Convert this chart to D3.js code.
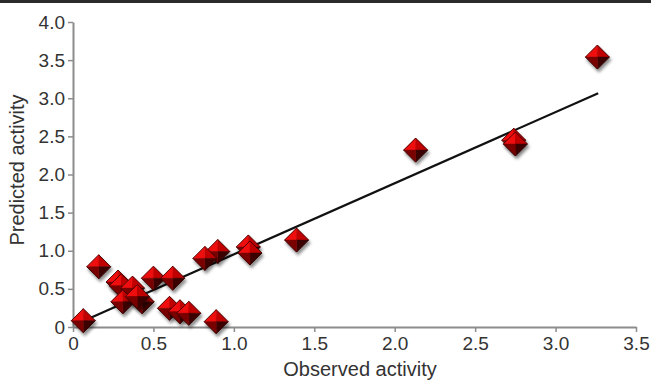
<!DOCTYPE html>
<html>
<head>
<meta charset="utf-8">
<script src="https://cdn.jsdelivr.net/npm/d3@7"></script>
<style>
  body { margin: 0; background: #fff; }
  svg text { font-family: "Liberation Sans", Arial, sans-serif; fill: #333; }
</style>
</head>
<body>
<div class="chart"></div>
<script>
// observed vs predicted activity
let observed  = [3.26, 2.74, 2.75, 2.13, 1.39, 1.09, 1.10, 0.90, 0.82, 0.89, 0.16, 0.064, 0.50, 0.62, 0.28, 0.30, 0.37, 0.31, 0.43, 0.40, 0.60, 0.665, 0.72];
let predicted = [3.54, 2.45, 2.40, 2.32, 1.14, 1.05, 0.97, 0.99, 0.90, 0.07, 0.79, 0.083, 0.64, 0.64, 0.59, 0.54, 0.51, 0.33, 0.33, 0.40, 0.245, 0.20, 0.18];
// fitted line ends
let fitX = [0.075, 3.265];
let fitY = [0.09, 3.065];
let xTicks = [0, 0.5, 1.0, 1.5, 2.0, 2.5, 3.0, 3.5];
let yTicks = [0, 0.5, 1.0, 1.5, 2.0, 2.5, 3.0, 3.5, 4.0];

let width = 651, height = 381;
let svg = d3.select('div.chart').append('svg')
  .attr('width', width)
  .attr('height', height);

// top rule
svg.append('rect').attr('x', 0).attr('y', 0).attr('width', width).attr('height', 3).attr('fill', '#2b2b2b');

let x = d3.scaleLinear().domain([0, 3.5]).range([73, 636]);
let y = d3.scaleLinear().domain([0, 4]).range([327, 22]);

let defs = svg.append('defs');
let shadow = defs.append('filter').attr('id', 'shadow')
  .attr('x', '-50%').attr('y', '-50%').attr('width', '200%').attr('height', '200%');
shadow.append('feDropShadow')
  .attr('dx', 1.5).attr('dy', 3).attr('stdDeviation', 1.8)
  .attr('flood-color', '#000').attr('flood-opacity', 0.45);

let fmt = d => d === 0 ? '0' : d3.format('.1f')(d);

let xAxis = svg.append('g')
  .attr('transform', 'translate(0,' + y(0) + ')')
  .call(d3.axisBottom(x).tickValues(xTicks).tickFormat(fmt).tickSize(5).tickSizeOuter(0).tickPadding(5));
let yAxis = svg.append('g')
  .attr('transform', 'translate(' + x(0) + ',0)')
  .call(d3.axisLeft(y).tickValues(yTicks).tickFormat(fmt).tickSize(5).tickSizeOuter(0).tickPadding(3));

[xAxis, yAxis].forEach(a => {
  a.select('.domain').attr('stroke', '#8c8c8c').attr('stroke-width', 2);
  a.selectAll('.tick line').attr('stroke', '#8c8c8c').attr('stroke-width', 1.5);
  a.selectAll('.tick text').attr('font-size', 19).attr('fill', '#333')
    .attr('font-family', '"Liberation Sans", Arial, sans-serif');
});

// regression line
svg.append('line')
  .attr('x1', x(fitX[0])).attr('y1', y(fitY[0]))
  .attr('x2', x(fitX[1])).attr('y2', y(fitY[1]))
  .attr('stroke', '#111').attr('stroke-width', 2.2);

// bevelled diamonds
let r = 12;
let faces = [
  { pts: [[0, 0], [-r, 0], [0, -r]], fill: '#f01010' },
  { pts: [[0, 0], [0, -r], [r, 0]], fill: '#c00000' },
  { pts: [[0, 0], [r, 0], [0, r]], fill: '#3a0000' },
  { pts: [[0, 0], [0, r], [-r, 0]], fill: '#7a0000' }
];
let pts = observed.map((o, i) => ({ o: o, p: predicted[i] }));
let g = svg.selectAll('g.pt').data(pts).enter().append('g')
  .attr('class', 'pt')
  .attr('transform', d => 'translate(' + x(d.o) + ',' + y(d.p) + ')')
  .attr('filter', 'url(#shadow)');
faces.forEach(f => {
  g.append('path')
    .attr('d', 'M' + f.pts.map(p => p.join(',')).join('L') + 'Z')
    .attr('fill', f.fill)
    .attr('stroke', f.fill).attr('stroke-width', 0.5);
});
g.append('path')
  .attr('d', `M${-r},0L0,${-r}L${r},0L0,${r}Z`)
  .attr('fill', 'none').attr('stroke', '#300000').attr('stroke-width', 0.8);

// axis titles
svg.append('text')
  .attr('x', 360).attr('y', 376)
  .attr('text-anchor', 'middle').attr('font-size', 20)
  .text('Observed activity');
svg.append('text')
  .attr('transform', 'translate(24,170) rotate(-90)')
  .attr('text-anchor', 'middle').attr('font-size', 20)
  .text('Predicted activity');
</script>
</body>
</html>
